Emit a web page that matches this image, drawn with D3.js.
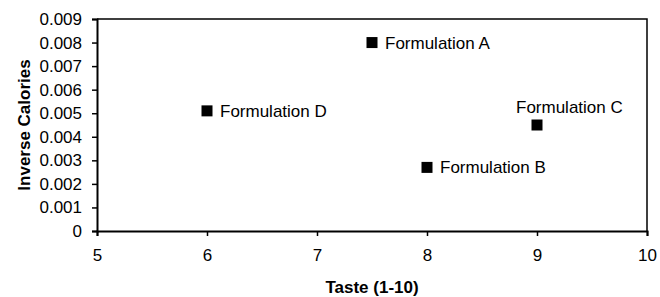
<!DOCTYPE html>
<html>
<head>
<meta charset="utf-8">
<script src="https://cdn.jsdelivr.net/npm/d3@7"></script>
<style>
  body { margin: 0; background: #fff; }
  svg { display: block; font-family: "Liberation Sans", Arial, sans-serif; }
</style>
</head>
<body>
<svg id="chart"></svg>
<script>
// values
const formulations = ["Formulation A", "Formulation B", "Formulation C", "Formulation D"];
const taste = [7.5, 8, 9, 6];
const inverseCalories = [0.008, 0.0027, 0.0045, 0.0051];
const xTicks = [5, 6, 7, 8, 9, 10];
const yTicks = [0, 0.001, 0.002, 0.003, 0.004, 0.005, 0.006, 0.007, 0.008, 0.009];
const xTitle = "Taste (1-10)";
const yTitle = "Inverse Calories";

const points = formulations.map((name, i) => ({ name, x: taste[i], y: inverseCalories[i] }));

const W = 660, H = 297;
const margin = { top: 19, right: 13, bottom: 66, left: 97 };
const width = W - margin.left - margin.right;
const height = H - margin.top - margin.bottom;

const svg = d3.select("#chart").attr("width", W).attr("height", H);
const g = svg.append("g").attr("transform", `translate(${margin.left},${margin.top})`);

const x = d3.scaleLinear().domain([5, 10]).range([0, width]);
const y = d3.scaleLinear().domain([0, 0.009]).range([height, 0]);

// plot frame (top and right)
g.append("path")
  .attr("d", `M0,0H${width}V${height}`)
  .attr("fill", "none")
  .attr("stroke", "#000")
  .attr("stroke-width", 1.5);

const xAxis = g.append("g")
  .attr("transform", `translate(0,${height})`)
  .call(d3.axisBottom(x).tickValues(xTicks).tickSize(5).tickPadding(13).tickFormat(d3.format("d")));

const yAxis = g.append("g")
  .call(d3.axisLeft(y).tickValues(yTicks).tickSize(5).tickPadding(10)
    .tickFormat(d => d === 0 ? "0" : d3.format(".3f")(d)));

[xAxis, yAxis].forEach(ax => {
  ax.select(".domain").attr("stroke-width", 2);
  ax.selectAll(".tick line").attr("stroke-width", 1.5);
  ax.selectAll(".tick text")
    .attr("font-size", 17)
    .attr("font-family", "Liberation Sans, Arial, sans-serif")
    .attr("fill", "#000");
});

svg.append("text")
  .attr("x", margin.left + width / 2)
  .attr("y", 293)
  .attr("text-anchor", "middle")
  .attr("font-size", 17)
  .attr("font-weight", "bold")
  .text(xTitle);

svg.append("text")
  .attr("transform", `translate(30,${margin.top + height / 2}) rotate(-90)`)
  .attr("text-anchor", "middle")
  .attr("font-size", 17)
  .attr("font-weight", "bold")
  .text(yTitle);

const s = 11;
g.selectAll("rect.pt")
  .data(points)
  .join("rect")
  .attr("class", "pt")
  .attr("x", d => x(d.x) - s / 2)
  .attr("y", d => y(d.y) - s / 2)
  .attr("width", s)
  .attr("height", s)
  .attr("fill", "#000");

// Formulation C label sits above its marker, the others to the right
const above = d => d.name === "Formulation C";
g.selectAll("text.lbl")
  .data(points)
  .join("text")
  .attr("class", "lbl")
  .attr("x", d => above(d) ? x(d.x) - 21 : x(d.x) + 13)
  .attr("y", d => above(d) ? y(d.y) - 12 : y(d.y) + 6)
  .attr("font-size", 17)
  .attr("fill", "#000")
  .text(d => d.name);
</script>
</body>
</html>
